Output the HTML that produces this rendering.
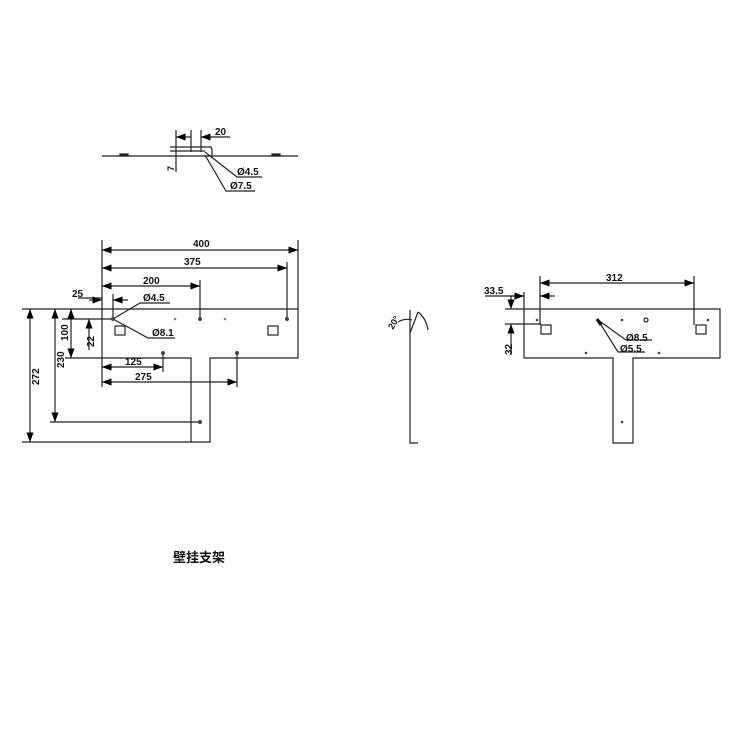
<!DOCTYPE html>
<html><head><style>body{margin:0;background:#fff}svg{display:block}</style></head><body>
<svg width="750" height="750" viewBox="0 0 750 750" xmlns="http://www.w3.org/2000/svg" font-family="Liberation Sans, sans-serif">
<defs><marker id="a" markerWidth="8" markerHeight="6" refX="8" refY="3" orient="auto-start-reverse"><path d="M0,0 L8,3 L0,6z" fill="#000"/></marker></defs>
<g stroke="#222" fill="none" stroke-width="1.2">
<!-- top view -->
<line x1="102" y1="156" x2="298" y2="156"/>
<rect x="120" y="154" width="8" height="2" fill="#222"/>
<rect x="272" y="154" width="8" height="2" fill="#222"/>
<path d="M170 147 H211 L212 150 V156 M170 151 H205"/>
<line x1="176" y1="130" x2="176" y2="172"/>
<line x1="191" y1="130" x2="191" y2="152"/>
<line x1="201" y1="130" x2="201" y2="152"/>
<line x1="176" y1="137" x2="191" y2="137" marker-start="url(#a)"/>
<line x1="201" y1="137" x2="230" y2="137" marker-start="url(#a)"/>
<path d="M205 152 L237 177 H262 M205 155 L226 191 H255"/>
<!-- front view -->
<path d="M102 309 H298 V358 H210 V442 H191 V358 H102"/>
<rect x="115" y="326" width="10" height="9"/><rect x="268" y="326" width="10" height="9"/>
<line x1="102" y1="240" x2="102" y2="387"/>
<line x1="298" y1="240" x2="298" y2="309"/>
<line x1="287" y1="262" x2="287" y2="319"/>
<line x1="200" y1="280" x2="200" y2="319"/>
<line x1="102" y1="250" x2="298" y2="250" marker-start="url(#a)" marker-end="url(#a)"/>
<line x1="102" y1="268" x2="287" y2="268" marker-start="url(#a)" marker-end="url(#a)"/>
<line x1="102" y1="286" x2="200" y2="286" marker-start="url(#a)" marker-end="url(#a)"/>
<line x1="113" y1="294" x2="113" y2="319"/>
<line x1="78" y1="298" x2="102" y2="298"/>
<line x1="89" y1="300" x2="102" y2="300" marker-end="url(#a)"/>
<line x1="113" y1="300" x2="128" y2="300" marker-start="url(#a)"/>
<line x1="22" y1="309" x2="102" y2="309"/>
<line x1="62" y1="319" x2="113" y2="319"/>
<line x1="65" y1="358" x2="102" y2="358"/>
<line x1="50" y1="422" x2="200" y2="422"/>
<line x1="22" y1="442" x2="191" y2="442"/>
<line x1="30" y1="309" x2="30" y2="442" marker-start="url(#a)" marker-end="url(#a)"/>
<line x1="55" y1="309" x2="55" y2="422" marker-start="url(#a)" marker-end="url(#a)"/>
<line x1="71" y1="309" x2="71" y2="358" marker-start="url(#a)" marker-end="url(#a)"/>
<line x1="89" y1="319" x2="89" y2="350" marker-start="url(#a)"/>
<line x1="163" y1="353" x2="163" y2="372"/>
<line x1="237" y1="353" x2="237" y2="387"/>
<line x1="102" y1="367" x2="163" y2="367" marker-start="url(#a)" marker-end="url(#a)"/>
<line x1="102" y1="382" x2="237" y2="382" marker-start="url(#a)" marker-end="url(#a)"/>
<path d="M113 319 L140 303 H170 M113 319 L148 338 H175"/>
<!-- side view -->
<path d="M410 310 V443 H418"/>
<path d="M398 322 Q405 318 412 320 M418 312 Q426 318 428 330 M410 333 L418 312"/>
<!-- right view -->
<path d="M524 309 H720 V358 H633 V443 H613 V358 H524 Z"/>
<rect x="541" y="325" width="10" height="9"/><rect x="696" y="325" width="10" height="9"/>
<line x1="540" y1="276" x2="540" y2="325"/>
<line x1="694" y1="276" x2="694" y2="325"/>
<line x1="540" y1="283" x2="694" y2="283" marker-start="url(#a)" marker-end="url(#a)"/>
<line x1="485" y1="296" x2="524" y2="296"/>
<line x1="524" y1="292" x2="524" y2="309"/>
<line x1="510" y1="296" x2="524" y2="296" marker-end="url(#a)"/>
<line x1="540" y1="296" x2="555" y2="296" marker-start="url(#a)"/>
<line x1="505" y1="309" x2="524" y2="309"/>
<line x1="505" y1="324" x2="541" y2="324"/>
<line x1="511" y1="296" x2="511" y2="309" marker-end="url(#a)"/>
<line x1="511" y1="324" x2="511" y2="355" marker-start="url(#a)"/>
<path d="M598 320 L626 340 H652 M598 320 L618 352 H645"/>
<line x1="597" y1="319" x2="601" y2="325" stroke-width="3" stroke="#111"/>
<circle cx="646" cy="320" r="2"/>
</g>
<g fill="#444">
<circle cx="113" cy="319" r="2"/><circle cx="200" cy="319" r="2"/><circle cx="287" cy="319" r="2"/>
<circle cx="175" cy="319" r="1.3" fill="#888"/><circle cx="225" cy="319" r="1.3" fill="#888"/>
<circle cx="163" cy="353" r="2"/><circle cx="237" cy="353" r="2"/><circle cx="200" cy="422" r="2"/>
<circle cx="537" cy="320" r="1.3"/><circle cx="622" cy="320" r="1.3"/><circle cx="708" cy="320" r="1.3"/>
<circle cx="586" cy="353" r="1.3"/><circle cx="659" cy="353" r="1.3"/><circle cx="622" cy="422" r="1.3"/>
</g>
<g font-size="10" fill="#111" font-weight="bold">
<text x="215" y="135">20</text>
<text x="237" y="175">Ø4.5</text>
<text x="230" y="189">Ø7.5</text>
<text transform="translate(174,171) rotate(-90)" font-size="9">7</text>
<text x="193" y="247">400</text>
<text x="184" y="265">375</text>
<text x="143" y="284">200</text>
<text x="72" y="297">25</text>
<text x="143" y="301">Ø4.5</text>
<text x="152" y="336">Ø8.1</text>
<text x="125" y="365">125</text>
<text x="135" y="380">275</text>
<text transform="translate(39,385) rotate(-90)">272</text>
<text transform="translate(64,368) rotate(-90)">230</text>
<text transform="translate(68,341) rotate(-90)">100</text>
<text transform="translate(94,347) rotate(-90)">22</text>
<text transform="translate(393,330) rotate(-60)" font-size="9">20°</text>
<text x="606" y="281">312</text>
<text x="484" y="294">33.5</text>
<text transform="translate(512,355) rotate(-90)">32</text>
<text x="626" y="341">Ø8.5</text>
<text x="620" y="352">Ø5.5</text>
<text x="173" y="562" font-size="13" font-family="Noto Sans CJK SC, sans-serif">壁挂支架</text>
</g>
</svg>
</body></html>
